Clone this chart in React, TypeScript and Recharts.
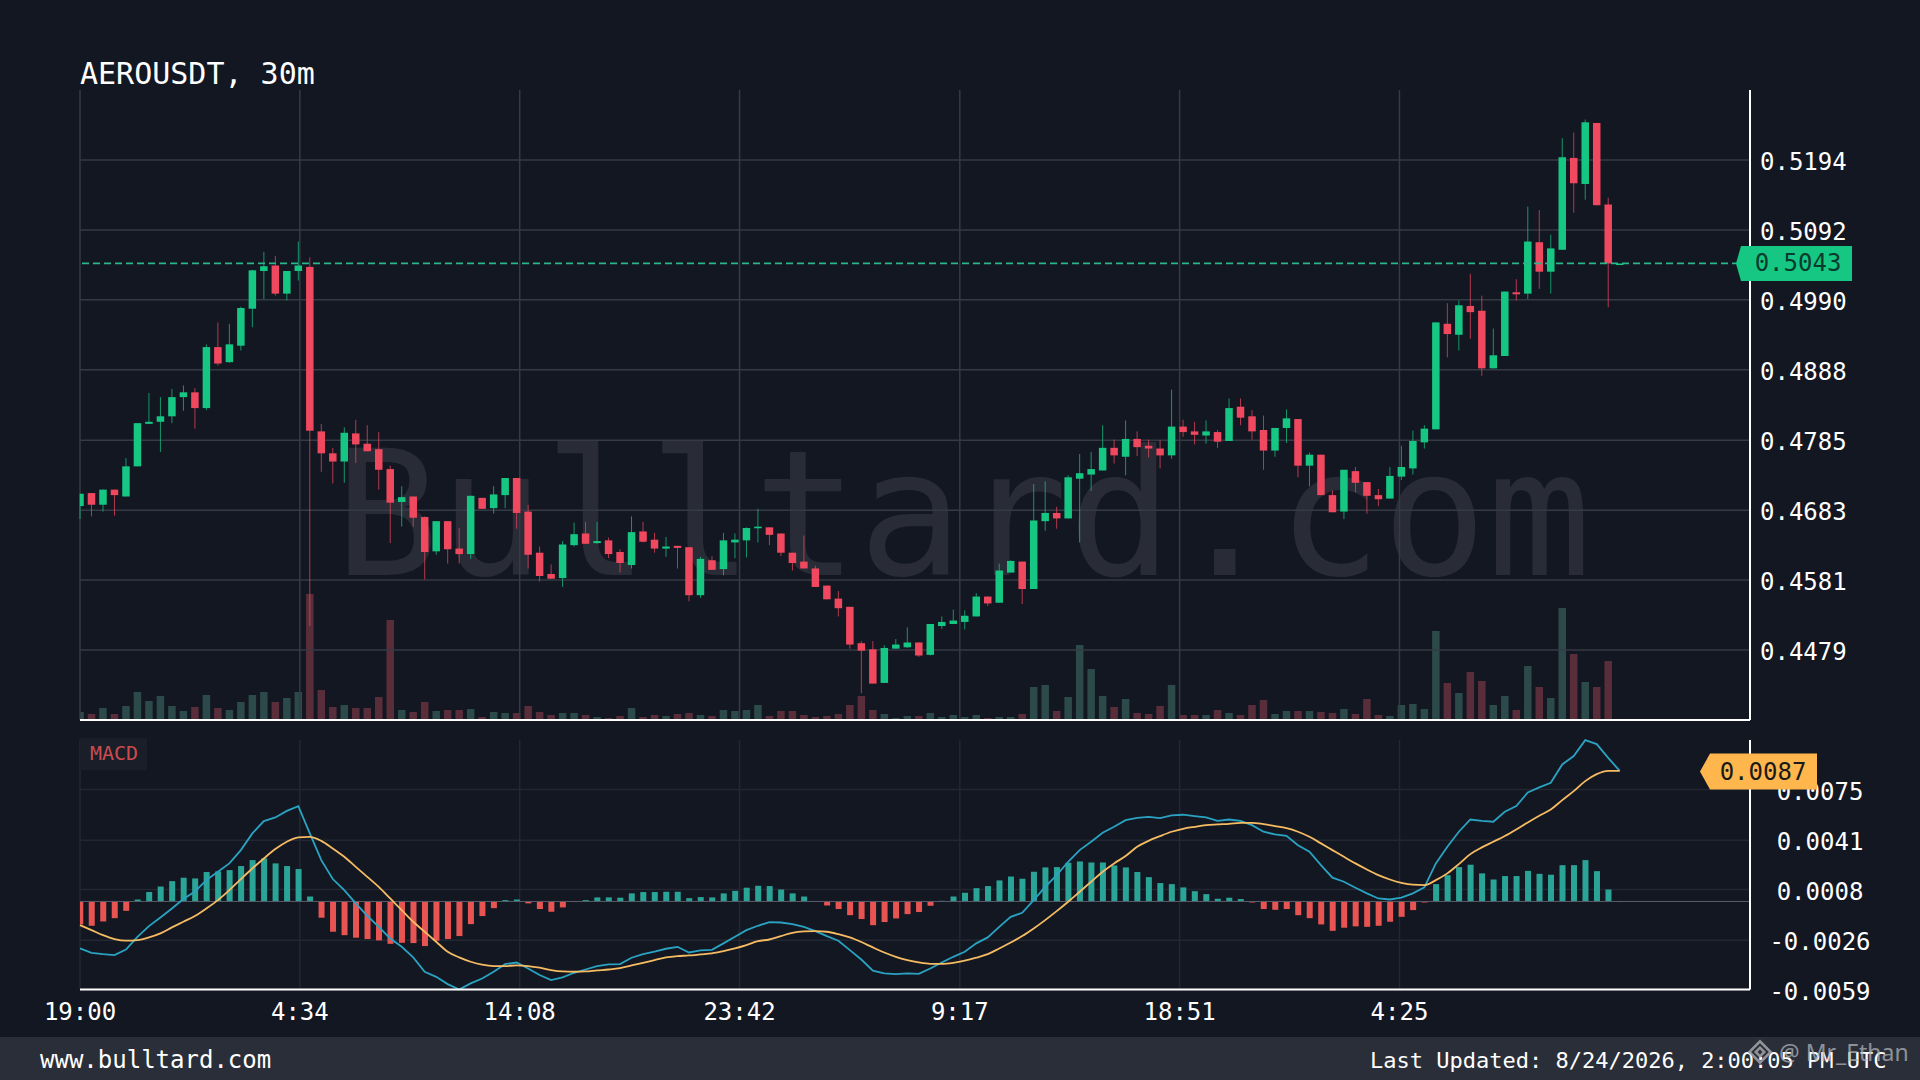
import React from "react";
import { ComposedChart, Bar, Line, XAxis, YAxis, CartesianGrid, ReferenceLine } from "recharts";

const MONO = '"DejaVu Sans Mono", monospace';
const BG = "#131722";
const UP = "#16c784";
const DOWN = "#f0485f";

// Candles, oldest first (30m)
const opens = [
  .4689,.4708,.4691,.4713,.4703,.4747,.4809,.4812,.4820,.4848,.4855,.4832,.4921,.4899,.4923,.4977,.5032,.5040,.4999,.5032,
  .5038,.4798,.4766,.4754,.4795,.4780,.4772,.4743,.4695,.4703,.4673,.4623,.4667,.4627,.4619,.4701,.4686,.4705,.4730,.4681,
  .4621,.4590,.4584,.4632,.4649,.4635,.4639,.4622,.4603,.4652,.4640,.4627,.4631,.4629,.4559,.4610,.4597,.4636,.4639,.4657,
  .4658,.4649,.4621,.4608,.4598,.4573,.4554,.4542,.4489,.4480,.4431,.4481,.4483,.4490,.4472,.4514,.4517,.4520,.4528,.4557,
  .4548,.4592,.4608,.4568,.4667,.4679,.4671,.4729,.4735,.4741,.4774,.4761,.4787,.4777,.4773,.4763,.4805,.4798,.4792,.4797,
  .4784,.4834,.4820,.4800,.4770,.4803,.4816,.4748,.4764,.4705,.4681,.4740,.4724,.4705,.4700,.4732,.4744,.4782,.4801,.4955,
  .4939,.4981,.4974,.4890,.4908,.5001,.4999,.5074,.5031,.5063,.5197,.5159,.5248,.5129,.5043,
];
const closes = [
  .4707,.4691,.4713,.4705,.4747,.4810,.4812,.4820,.4848,.4855,.4832,.4921,.4897,.4925,.4978,.5033,.5039,.4999,.5032,.5040,
  .4799,.4766,.4754,.4796,.4779,.4769,.4742,.4694,.4702,.4672,.4622,.4667,.4626,.4619,.4704,.4685,.4706,.4730,.4679,.4618,
  .4587,.4583,.4633,.4648,.4634,.4638,.4619,.4606,.4651,.4637,.4627,.4630,.4628,.4559,.4612,.4596,.4639,.4640,.4657,.4659,
  .4647,.4621,.4606,.4598,.4571,.4553,.4540,.4487,.4478,.4430,.4482,.4487,.4490,.4471,.4517,.4520,.4522,.4529,.4557,.4547,
  .4595,.4609,.4568,.4668,.4679,.4671,.4731,.4737,.4743,.4774,.4763,.4787,.4775,.4773,.4763,.4805,.4797,.4793,.4798,.4783,
  .4832,.4818,.4798,.4770,.4803,.4817,.4748,.4764,.4705,.4680,.4742,.4723,.4704,.4699,.4733,.4746,.4784,.4802,.4957,.4940,
  .4982,.4972,.4890,.4909,.5002,.4998,.5075,.5031,.5065,.5198,.5160,.5249,.5128,.5043,.5043,
];
const highs = [
  .4707,.4708,.4713,.4713,.4759,.4810,.4854,.4848,.4860,.4865,.4861,.4925,.4957,.4955,.4980,.5034,.5060,.5054,.5032,.5075,
  .5052,.4809,.4774,.4804,.4815,.4807,.4797,.4748,.4718,.4703,.4674,.4667,.4667,.4657,.4704,.4701,.4718,.4730,.4730,.4691,
  .4630,.4604,.4638,.4665,.4666,.4666,.4643,.4626,.4674,.4666,.4650,.4644,.4631,.4629,.4615,.4616,.4650,.4649,.4658,.4685,
  .4658,.4649,.4621,.4646,.4602,.4573,.4565,.4542,.4492,.4492,.4486,.4495,.4512,.4490,.4517,.4528,.4538,.4537,.4562,.4557,
  .4605,.4610,.4608,.4721,.4725,.4688,.4734,.4765,.4768,.4807,.4786,.4814,.4798,.4786,.4785,.4859,.4815,.4812,.4814,.4800,
  .4846,.4846,.4829,.4821,.4803,.4830,.4816,.4767,.4764,.4712,.4742,.4746,.4724,.4714,.4746,.4777,.4799,.4807,.4957,.4985,
  .4989,.5028,.4996,.4948,.5002,.5020,.5126,.5121,.5085,.5226,.5234,.5253,.5248,.5139,.5043,
];
const lows = [
  .4670,.4674,.4681,.4675,.4703,.4747,.4809,.4768,.4810,.4828,.4802,.4829,.4894,.4898,.4916,.4950,.4991,.4996,.4989,.5018,
  .4514,.4739,.4722,.4723,.4752,.4769,.4713,.4635,.4659,.4659,.4582,.4618,.4605,.4605,.4612,.4685,.4678,.4686,.4656,.4598,
  .4579,.4583,.4571,.4630,.4634,.4634,.4613,.4592,.4598,.4636,.4621,.4615,.4598,.4550,.4555,.4596,.4588,.4613,.4614,.4636,
  .4632,.4616,.4595,.4598,.4571,.4553,.4528,.4481,.4416,.4430,.4431,.4481,.4482,.4469,.4471,.4510,.4517,.4509,.4528,.4543,
  .4548,.4592,.4546,.4568,.4653,.4656,.4671,.4636,.4711,.4741,.4751,.4734,.4762,.4760,.4744,.4758,.4790,.4779,.4780,.4774,
  .4784,.4807,.4786,.4742,.4761,.4781,.4731,.4718,.4705,.4680,.4670,.4709,.4678,.4689,.4700,.4727,.4735,.4773,.4801,.4906,
  .4916,.4933,.4879,.4890,.4908,.4989,.4991,.5006,.4999,.5063,.5117,.5136,.5128,.4979,.5043,
];
const volumes = [
  8,6,12,6,14,28,19,24,14,9,13,25,12,10,18,25,28,18,22,28,
  126,30,13,15,12,12,23,100,10,8,18,9,10,10,11,3,8,7,7,14,
  8,5,7,7,5,3,2,4,12,3,5,4,6,7,5,4,10,9,10,15,
  4,9,9,5,3,4,6,15,24,10,6,2,4,4,7,3,5,3,5,2,
  3,3,6,33,35,9,23,75,51,24,13,21,7,6,14,35,5,5,5,10,
  7,5,15,20,6,9,9,9,8,7,11,6,21,5,4,15,16,11,89,37,
  27,48,39,15,24,10,54,33,22,112,66,38,33,59,1,
];

// MACD pane, in units of 0.00001
const MACD_UNIT = 1e-5;
const macdLine = [
  -315,-344,-353,-360,-322,-237,-165,-107,-47,16,67,143,199,255,344,456,538,563,607,639,
  456,277,150,76,-13,-96,-170,-248,-304,-375,-471,-505,-554,-590,-549,-516,-471,-420,-409,-449,
  -493,-527,-509,-478,-456,-433,-422,-420,-377,-353,-337,-317,-304,-342,-328,-324,-281,-237,-192,-163,
  -138,-141,-152,-170,-199,-232,-263,-326,-389,-464,-482,-487,-482,-485,-449,-409,-371,-337,-281,-241,
  -170,-103,-76,9,98,176,266,344,400,460,500,545,560,567,558,576,581,572,563,540,
  549,540,511,467,449,440,377,333,243,159,132,92,54,20,13,25,54,94,255,366,
  467,549,540,534,601,639,730,764,795,918,974,1081,1054,962,875,
];
const signalLine = [
  -159,-192,-226,-252,-263,-259,-241,-214,-174,-136,-98,-47,9,76,150,221,288,351,400,429,
  433,406,355,299,232,165,98,20,-58,-136,-203,-270,-337,-375,-404,-424,-433,-433,-429,-433,
  -444,-460,-469,-471,-469,-462,-456,-447,-429,-411,-393,-375,-366,-362,-355,-348,-333,-315,-293,-266,
  -255,-232,-210,-201,-199,-203,-219,-241,-272,-308,-342,-371,-393,-409,-418,-418,-411,-397,-377,-353,
  -315,-275,-232,-181,-125,-65,-2,65,132,199,255,304,366,406,438,467,487,500,511,516,
  520,527,527,518,505,491,467,433,389,344,299,255,214,176,147,125,112,109,143,188,
  250,317,362,400,438,482,529,574,616,679,739,806,853,875,875,
];
const histogram = [
  -154,-163,-134,-112,-63,13,63,100,136,159,154,197,201,210,237,277,288,255,237,217,
  33,-109,-203,-226,-243,-252,-261,-284,-277,-279,-299,-263,-252,-232,-152,-98,-45,9,13,-13,
  -51,-69,-40,-4,9,27,27,25,54,63,63,65,65,22,29,27,54,71,92,105,
  103,80,54,33,2,-27,-51,-92,-118,-159,-138,-114,-85,-71,-29,4,33,58,89,103,
  141,167,152,199,228,230,259,268,261,261,241,228,197,163,123,116,94,69,49,18,
  25,16,-7,-51,-56,-51,-92,-112,-154,-197,-176,-167,-170,-163,-136,-103,-58,-7,116,176,
  230,246,188,147,170,170,205,185,179,243,243,277,203,80,-4,
];

const priceTicks = [0.4479, 0.4581, 0.4683, 0.4785, 0.4888, 0.499, 0.5092, 0.5194];
const macdTicks = [-0.0059, -0.0026, 0.0008, 0.0041, 0.0075];
const timeLabels = ["19:00", "4:34", "14:08", "23:42", "9:17", "18:51", "4:25"];
const tickMinutes = [0, 574, 1148, 1722, 2297, 2871, 3445];
const BAR_MINUTES = 30;
const lastPrice = 0.5043;
const lastMacd = 0.0087;

const xTicks = tickMinutes.map((m) => m / BAR_MINUTES);
const tickText = new Map(xTicks.map((t, i) => [t, timeLabels[i]]));
const X_MAX = 145.34;
const PRICE_DOMAIN: [number, number] = [0.43769, 0.52961];
const VOL_DOMAIN: [number, number] = [0, 630];
const MACD_DOMAIN: [number, number] = [-0.0059, 0.010817];

const rows = opens.map((open, i) => ({
  i,
  open,
  close: closes[i],
  high: highs[i],
  low: lows[i],
  volume: volumes[i],
  macd: macdLine[i] * MACD_UNIT,
  signal: signalLine[i] * MACD_UNIT,
  hist: histogram[i] * MACD_UNIT,
}));

const PLOT_LEFT = 80;

function clampedRect(x: number, w: number, y: number, h: number, fill: string) {
  const left = Math.max(x, PLOT_LEFT);
  const width = x + w - left;
  if (width <= 0) return null;
  return <rect x={left} y={y} width={width} height={h} fill={fill} />;
}

function Candle(p: any) {
  const { x, y, width, height, payload } = p;
  const { open, close, high, low } = payload;
  const toY = (v: number) => (high === low ? y : y + ((high - v) / (high - low)) * height);
  const color = close >= open ? UP : DOWN;
  const top = toY(Math.max(open, close));
  const bottom = toY(Math.min(open, close));
  const cx = x + width / 2;
  return (
    <g>
      <line x1={cx} x2={cx} y1={y} y2={y + height} stroke={color} strokeWidth={1} opacity={0.72} />
      {clampedRect(x, width, top, Math.max(bottom - top, 1.6), color)}
    </g>
  );
}

function VolumeBar(p: any) {
  const { x, y, width, height, payload } = p;
  return clampedRect(x, width, y, height, payload.close >= payload.open ? "#2c4a4a" : "#592e3a");
}

function HistBar(p: any) {
  const { x, y, width, height, payload } = p;
  const top = Math.min(y, y + height);
  return clampedRect(x, width, top, Math.abs(height), payload.hist >= 0 ? "#2ba498" : "#e85452");
}

const PriceTick = (p: any) => (
  <text x={1760} y={p.y + 2} fill="#fff" fontSize={24} fontFamily={MONO} dominantBaseline="central">
    {p.payload.value.toFixed(4)}
  </text>
);
const MacdTick = (p: any) => (
  <text x={1820} y={p.y + 2} fill="#fff" fontSize={24} fontFamily={MONO} dominantBaseline="central" textAnchor="middle">
    {p.payload.value.toFixed(4)}
  </text>
);
const TimeTick = (p: any) => (
  <text x={p.x} y={1012 - 700} fill="#fff" fontSize={24} fontFamily={MONO} dominantBaseline="central" textAnchor="middle">
    {tickText.get(p.payload.value)}
  </text>
);
const NoTick = () => <g />;

const pos = (v: number, d: [number, number], top: number, bottom: number) =>
  top + ((d[1] - v) / (d[1] - d[0])) * (bottom - top);

function PriceTag({ y, tip, body, right, h, fill, ink, label, textX }: any) {
  return (
    <g>
      <polygon
        points={`${tip},${y} ${body},${y - h / 2} ${right},${y - h / 2} ${right},${y + h / 2} ${body},${y + h / 2}`}
        fill={fill}
      />
      <text x={textX} y={y} fill={ink} fontSize={24} fontFamily={MONO} dominantBaseline="central" textAnchor="middle">
        {label}
      </text>
    </g>
  );
}

const absText = (extra: React.CSSProperties): React.CSSProperties => ({
  position: "absolute",
  fontFamily: MONO,
  color: "#fff",
  whiteSpace: "pre",
  lineHeight: 1,
  ...extra,
});

export default function App() {
  return (
    <div style={{ position: "absolute", left: 0, top: 0, width: 1920, height: 1080, background: BG, overflow: "hidden" }}>
      <div style={absText({ left: 3, width: 1920, top: 428, textAlign: "center", fontSize: 174, color: "#292c37" })}>
        Bulltard.com
      </div>
      <div style={absText({ left: 80, top: 59, fontSize: 30 })}>AEROUSDT, 30m</div>

      <div style={{ position: "absolute", left: 0, top: 0 }}>
        <ComposedChart width={1920} height={740} data={rows} margin={{ top: 90, left: 80, right: 170, bottom: 20 }}>
          <XAxis dataKey="i" type="number" domain={[0, X_MAX]} ticks={xTicks} hide />
          <YAxis hide domain={VOL_DOMAIN} />
          <Bar dataKey="volume" barSize={7.5} shape={VolumeBar} isAnimationActive={false} />
        </ComposedChart>
      </div>

      <div style={{ position: "absolute", left: 0, top: 0 }}>
        <ComposedChart width={1920} height={740} data={rows} margin={{ top: 90, left: 80, right: 0, bottom: 0 }}>
          <CartesianGrid stroke="#363a45" strokeWidth={1.5} horizontalValues={priceTicks} verticalValues={xTicks} />
          <XAxis
            dataKey="i"
            type="number"
            domain={[0, X_MAX]}
            ticks={xTicks}
            interval={0}
            tick={NoTick}
            tickLine={false}
            height={20}
            axisLine={{ stroke: "#fff", strokeWidth: 2 }}
          />
          <YAxis
            orientation="right"
            width={170}
            domain={PRICE_DOMAIN}
            ticks={priceTicks}
            interval={0}
            tickLine={false}
            axisLine={{ stroke: "#fff", strokeWidth: 2 }}
            tick={PriceTick}
          />
          <ReferenceLine y={lastPrice} stroke="#2bb58a" strokeWidth={1.8} strokeDasharray="7 4" />
          <Bar
            dataKey={(d: any) => [d.low, d.high]}
            barSize={7.5}
            shape={Candle}
            isAnimationActive={false}
          />
        </ComposedChart>
      </div>

      <div style={{ position: "absolute", left: 0, top: 700 }}>
        <ComposedChart width={1920} height={337.5} data={rows} margin={{ top: 40, left: 80, right: 0, bottom: 0 }}>
          <CartesianGrid stroke="#232732" strokeWidth={1.5} horizontalValues={macdTicks} verticalValues={xTicks} />
          <XAxis
            dataKey="i"
            type="number"
            domain={[0, X_MAX]}
            ticks={xTicks}
            interval={0}
            tickLine={false}
            height={48}
            axisLine={{ stroke: "#fff", strokeWidth: 2 }}
            tick={TimeTick}
          />
          <YAxis
            orientation="right"
            width={170}
            domain={MACD_DOMAIN}
            ticks={macdTicks}
            interval={0}
            tickLine={false}
            axisLine={{ stroke: "#fff", strokeWidth: 2 }}
            tick={MacdTick}
          />
          <ReferenceLine y={0} stroke="#5a5e68" strokeWidth={1} />
          <Bar dataKey="hist" barSize={6} shape={HistBar} isAnimationActive={false} />
          <Line dataKey="macd" type="linear" stroke="#2aa3c2" strokeWidth={1.8} dot={false} isAnimationActive={false} />
          <Line dataKey="signal" type="monotone" stroke="#f6bc63" strokeWidth={1.8} dot={false} isAnimationActive={false} />
        </ComposedChart>
      </div>

      <div style={{ position: "absolute", left: 80, top: 738, width: 67, height: 32, background: "#1a1e29" }} />
      <div style={absText({ left: 90, top: 743, fontSize: 20, color: "#cc4c4e" })}>MACD</div>

      <div style={{ position: "absolute", left: 0, top: 1037, width: 1920, height: 43, background: "#2a2e39" }} />
      <div style={absText({ left: 40, top: 1048, fontSize: 24 })}>www.bulltard.com</div>
      <div style={absText({ left: 1370, top: 1050, fontSize: 22 })}>Last Updated: 8/24/2026, 2:00:05 PM UTC</div>

      <svg width={1920} height={1080} style={{ position: "absolute", left: 0, top: 0, pointerEvents: "none" }}>
        <PriceTag
          y={pos(lastPrice, PRICE_DOMAIN, 90, 720)}
          tip={1736}
          body={1741}
          right={1852}
          h={35}
          fill="#16c784"
          ink="#0a3b2c"
          label={lastPrice.toFixed(4)}
          textX={1798}
        />
        <PriceTag
          y={pos(lastMacd, MACD_DOMAIN, 740, 989.5)}
          tip={1700}
          body={1710}
          right={1817}
          h={36}
          fill="#ffb74d"
          ink="#1a1a1a"
          label={lastMacd.toFixed(4)}
          textX={1763}
        />
        <g fill="none" stroke="#a3a5aa" strokeWidth={2.6} opacity={0.85}>
          <rect x={1752.5} y={1044.5} width={15} height={15} transform="rotate(45 1760 1052)" />
          <rect x={1757} y={1049} width={6} height={6} transform="rotate(45 1760 1052)" />
        </g>
        <text x={1779} y={1052} fill="#b0b2b7" opacity={0.75} fontSize={23} fontFamily='"Noto Sans", sans-serif' dominantBaseline="central">
          @ Mr_Ethan
        </text>
      </svg>
    </div>
  );
}
